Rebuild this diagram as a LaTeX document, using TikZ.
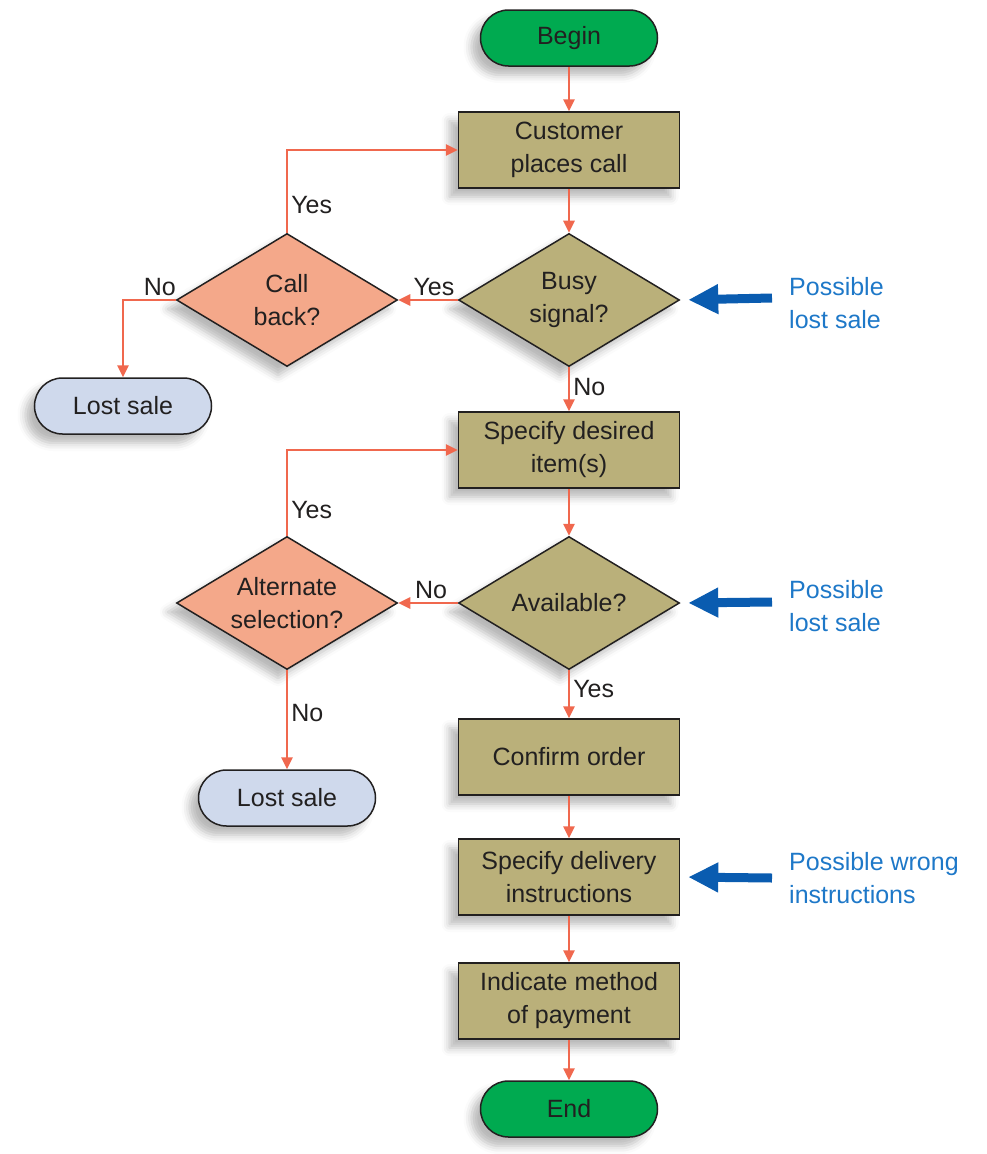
\documentclass[tikz,border=0pt]{standalone}
\usepackage{fontspec}
\setmainfont{Liberation Sans}
\usetikzlibrary{arrows.meta,shapes.geometric,shadows.blur}

\definecolor{termgreen}{RGB}{0,170,80}
\definecolor{stepolive}{RGB}{186,176,122}
\definecolor{decsalmon}{RGB}{244,168,138}
\definecolor{lostblue}{RGB}{207,217,236}
\definecolor{flowred}{RGB}{240,104,78}
\definecolor{notetext}{RGB}{30,120,200}
\definecolor{notearrow}{RGB}{10,92,176}
\definecolor{inkdark}{RGB}{34,32,32}

\tikzset{
  base/.style={draw=inkdark, line width=1.5pt, text=inkdark, font=\fontsize{25}{33}\selectfont,
    align=center, inner sep=0pt,
    blur shadow={shadow xshift=-9pt, shadow yshift=-9pt, shadow opacity=28, shadow blur radius=8pt}},
  terminal/.style={base, fill=termgreen, minimum width=177pt, minimum height=56pt, rounded corners=28pt},
  lostend/.style={base, fill=lostblue, minimum width=177pt, minimum height=56pt, rounded corners=28pt},
  stepbox/.style={base, fill=stepolive, minimum width=221pt, minimum height=76pt},
  decision/.style={base, diamond, minimum width=221pt, minimum height=133pt},
  choice/.style={decision, fill=stepolive},
  query/.style={decision, fill=decsalmon},
  inlabel/.style={text=inkdark, font=\fontsize{25}{33}\selectfont, align=center},
  flow/.style={draw=flowred, line width=2.6pt, -{Triangle[length=12pt,width=11pt]}},
  tag/.style={text=inkdark, font=\fontsize{25}{28}\selectfont, inner sep=3pt},
  warn/.style={draw=notearrow, line width=9pt, -{Triangle[length=30pt,width=28pt]}},
  note/.style={text=notetext, font=\fontsize{25}{33}\selectfont, align=left, anchor=west, inner sep=0pt}
}

\begin{document}
\begin{tikzpicture}[x=1pt,y=-1pt]
\useasboundingbox (0,0) rectangle (986,1154);

% main column
\node[terminal] (begin) at (569,38) {Begin};
\node[stepbox] (call) at (569,150) {Customer\\places call};
\node[choice] (busy) at (569,300) {};
\node[inlabel] (busyT) at (busy.center) {Busy\\signal?};
\node[stepbox] (item) at (569,450) {Specify desired\\item(s)};
\node[choice] (avail) at (569,603) {};
\node[inlabel] (availT) at (avail.center) {Available?};
\node[stepbox] (confirm) at (569,757) {Confirm order};
\node[stepbox] (deliv) at (569,877) {Specify delivery\\instructions};
\node[stepbox] (pay) at (569,1001) {Indicate method\\of payment};
\node[terminal] (finish) at (569,1109) {End};

% side branches
\node[query] (back) at (287,300) {};
\node[inlabel] (backT) at (back.center) {Call\\back?};
\node[lostend] (lostA) at (123,406) {Lost sale};
\node[query] (alt) at (287,603) {};
\node[inlabel] (altT) at (alt.center) {Alternate\\selection?};
\node[lostend] (lostB) at (287,798) {Lost sale};

% connectors
\draw[flow] (begin) -- (call);
\draw[flow] (call) -- (busy);
\draw[flow] (busy.west) -- node[tag, above, pos=0.4] (y1) {Yes} (back.east);
\draw[flow] (back.north) |- node[tag, right, pos=0.17] (y2) {Yes} (call.west);
\draw[flow] (back.west) -| node[tag, above, pos=0.15] (n1) {No} (lostA.north);
\draw[flow] (busy.south) -- node[tag, right, pos=0.45] (n2) {No} (item.north);
\draw[flow] (item) -- (avail);
\draw[flow] (avail.west) -- node[tag, above, pos=0.45] (n3) {No} (alt.east);
\draw[flow] (alt.north) |- node[tag, right, pos=0.15] (y3) {Yes} (item.west);
\draw[flow] (alt.south) -- node[tag, right, pos=0.43] (n4) {No} (lostB.north);
\draw[flow] (avail.south) -- node[tag, right, pos=0.4] (y4) {Yes} (confirm.north);
\draw[flow] (confirm) -- (deliv);
\draw[flow] (deliv) -- (pay);
\draw[flow] (pay) -- (finish);

% risk notes
\coordinate (wA) at (772,298);
\coordinate (wB) at (772,602);
\coordinate (wC) at (772,878);
\draw[warn, shorten >=8pt] (wA) -- (busy.east);
\draw[warn, shorten >=8pt] (wB) -- (avail.east);
\draw[warn, shorten >=8pt] (wC) -- (deliv.east);
\node[note] (noteA) at (789,303) {Possible\\lost sale};
\node[note] (noteB) at (789,606) {Possible\\lost sale};
\node[note] (noteC) at (789,878) {Possible wrong\\instructions};
\end{tikzpicture}
\end{document}
